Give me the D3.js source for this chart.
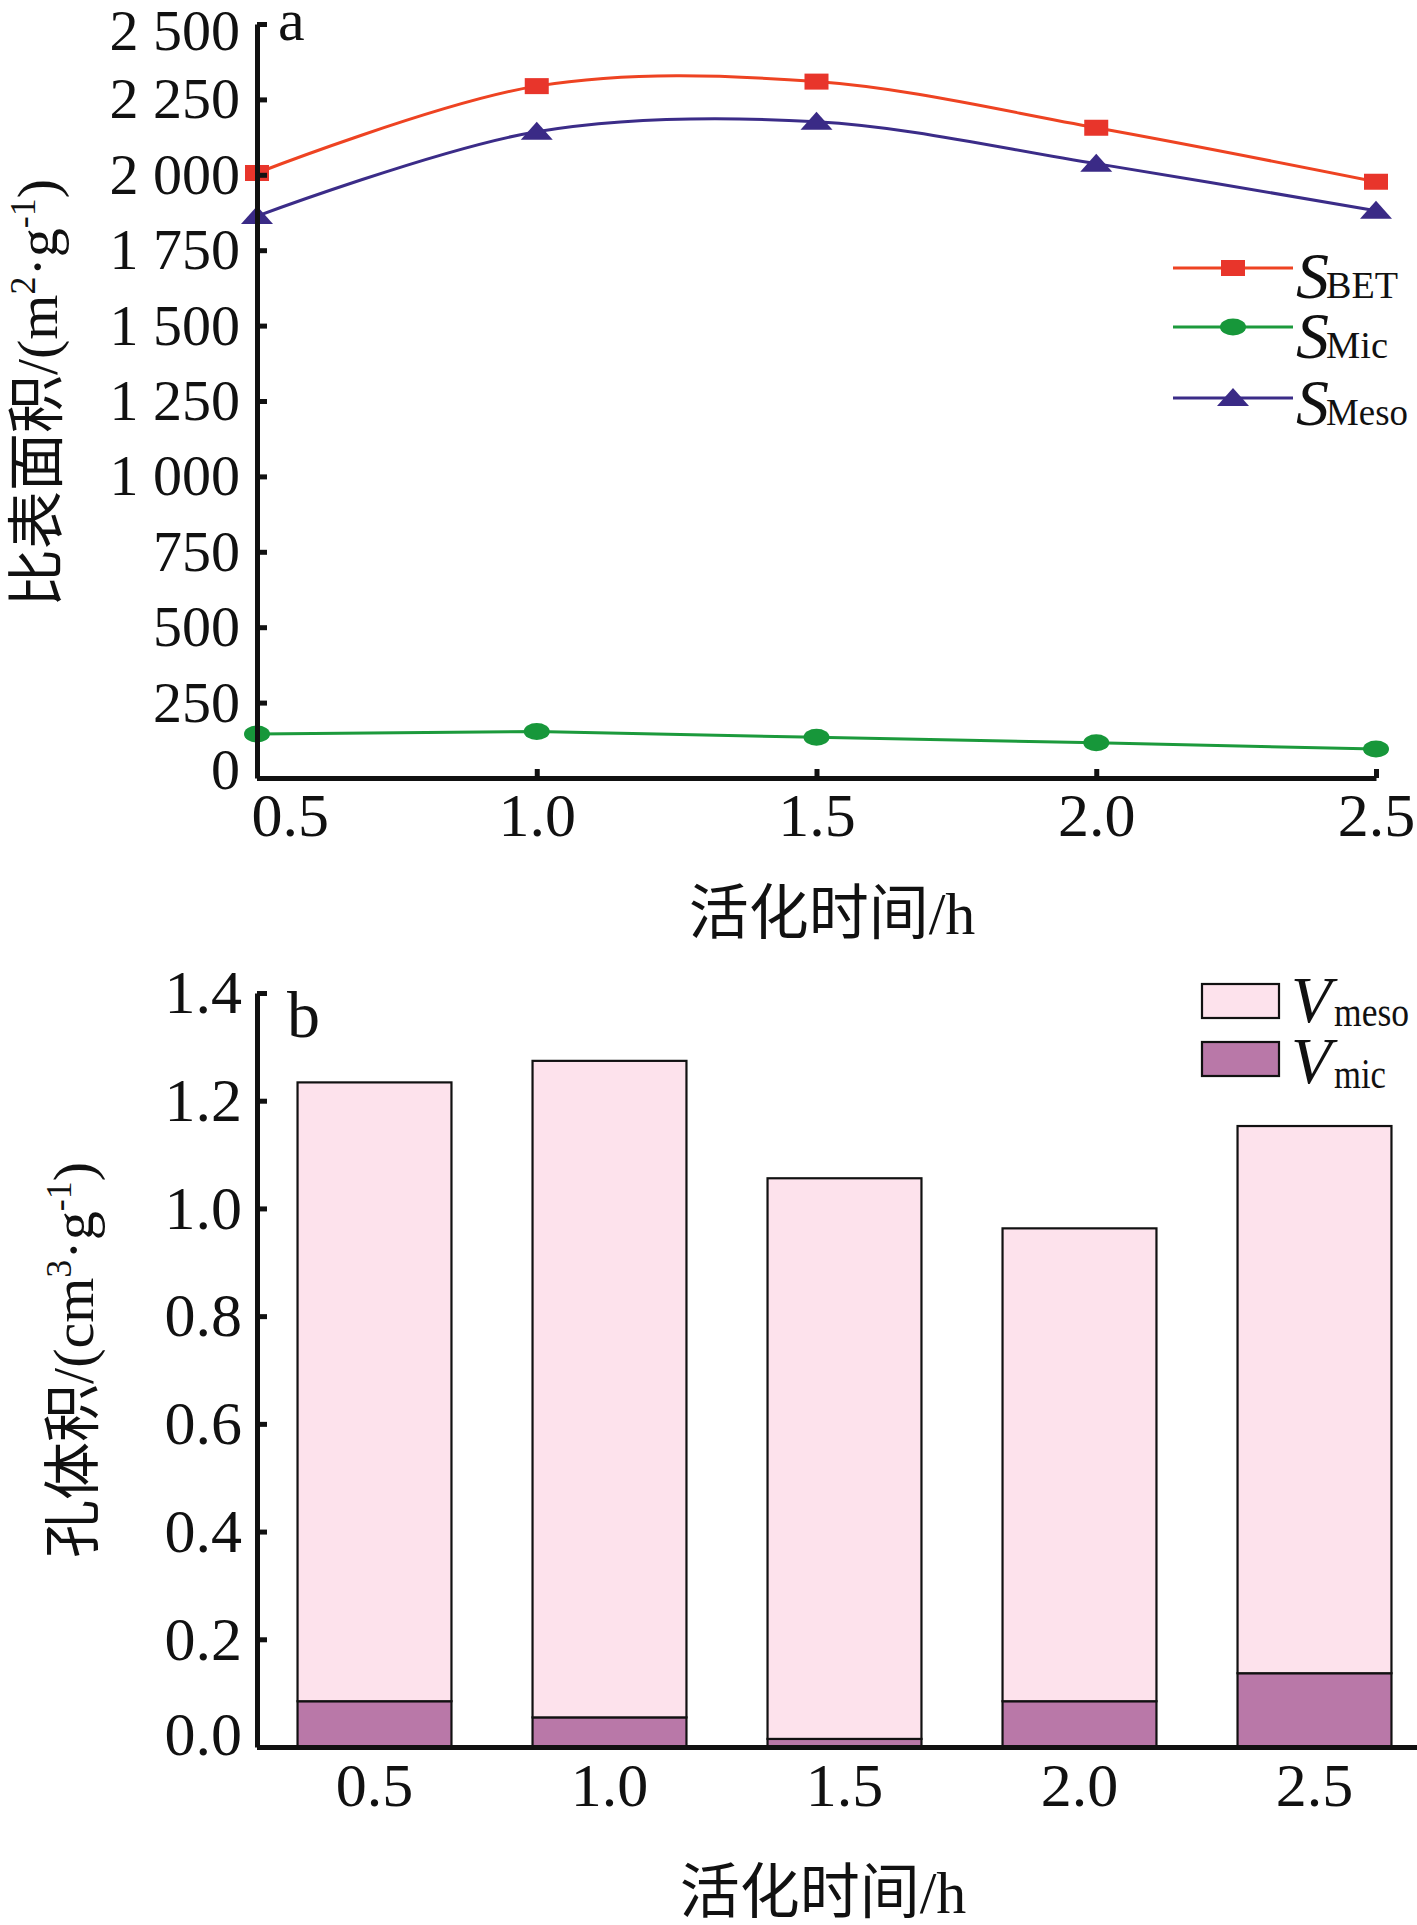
<!DOCTYPE html>
<html><head><meta charset="utf-8">
<script src="https://cdn.jsdelivr.net/npm/d3@7"></script>
<style>body{margin:0;background:#fff} svg{display:block}</style>
</head><body><svg id="c" width="1417" height="1925"></svg>
<script>
// ---------- data ----------
const times = [0.5, 1.0, 1.5, 2.0, 2.5];
const timeLabels = ["0.5", "1.0", "1.5", "2.0", "2.5"];
const sBET  = [2006, 2294, 2309, 2156, 1977];
const sMic  = [146, 154, 135, 117, 96];
const sMeso = [1863, 2143, 2176, 2037, 1881];
const vMic  = [0.085, 0.055, 0.015, 0.085, 0.137];
const vMeso = [1.149, 1.219, 1.041, 0.878, 1.016];
const yTicksA = [0, 250, 500, 750, 1000, 1250, 1500, 1750, 2000, 2250, 2500];
const yTicksB = [0, 0.2, 0.4, 0.6, 0.8, 1.0, 1.2, 1.4];
const seriesA = [
  {name: "BET",  values: sBET,  color: "#EE4322", fill: "#E8352B", marker: "square", curve: d3.curveCatmullRom},
  {name: "Mic",  values: sMic,  color: "#1C9A3C", fill: "#17973A", marker: "circle", curve: d3.curveLinear},
  {name: "Meso", values: sMeso, color: "#3B2C88", fill: "#3A2A86", marker: "triangle", curve: d3.curveCatmullRom}
];

const SERIF = "'Liberation Serif','Times New Roman',serif";
const MIX = "'Liberation Serif','Noto Sans CJK SC',serif";
const svg = d3.select("#c");

// ---------- panel a ----------
const xA = d3.scaleLinear().domain([0.5, 2.5]).range([257, 1376]);
const yA = d3.scaleLinear().domain([0, 2500]).range([778, 24]);
const gA = svg.append("g");

function drawMarker(g, type, x, y, fill) {
  if (type === "square") {
    g.append("rect").attr("x", x - 12).attr("y", y - 8).attr("width", 24).attr("height", 16).attr("fill", fill);
  } else if (type === "circle") {
    g.append("ellipse").attr("cx", x).attr("cy", y).attr("rx", 13).attr("ry", 8.5).attr("fill", fill);
  } else {
    g.append("path").attr("d", `M${x - 16},${y + 8}L${x},${y - 10}L${x + 16},${y + 8}Z`).attr("fill", fill);
  }
}

seriesA.forEach(s => {
  const line = d3.line().x((d, i) => xA(times[i])).y(d => yA(d)).curve(s.curve);
  gA.append("path").attr("d", line(s.values)).attr("fill", "none")
    .attr("stroke", s.color).attr("stroke-width", 3);
  s.values.forEach((v, i) => drawMarker(gA, s.marker, xA(times[i]), yA(v), s.fill));
});

const axA_y = gA.append("g").attr("transform", "translate(257,0)")
  .call(d3.axisLeft(yA).tickValues(yTicksA).tickSizeInner(-10).tickSizeOuter(0).tickPadding(17)
    .tickFormat(d => d >= 1000 ? `${Math.floor(d / 1000)} ${String(d % 1000).padStart(3, "0")}` : String(d)));
const axA_x = gA.append("g").attr("transform", "translate(0,778)")
  .call(d3.axisBottom(xA).tickValues(times).tickSizeInner(-9).tickSizeOuter(0).tickPadding(14)
    .tickFormat((d, i) => timeLabels[i]));
[axA_y, axA_x].forEach(ax => {
  ax.select(".domain").attr("stroke", "#111").attr("stroke-width", 5);
  ax.selectAll(".tick line").attr("stroke", "#111").attr("stroke-width", 5);
  ax.selectAll("text").attr("font-family", SERIF).attr("fill", "#111");
});
axA_y.selectAll("text").attr("font-size", 58);
axA_y.selectAll(".tick").filter(d => d === 2500).select("text").attr("y", 7);
axA_y.selectAll(".tick").filter(d => d === 0).select("text").attr("y", -8);
axA_x.selectAll("text").attr("font-size", 62);
axA_x.selectAll(".tick").filter((d, i) => i === 0).select("text").attr("text-anchor", "start").attr("x", -6);

gA.append("text").attr("x", 278).attr("y", 40).attr("font-family", SERIF).attr("font-size", 60).attr("fill", "#111").text("a");

gA.append("text").attr("x", 832).attr("y", 934).attr("text-anchor", "middle")
  .attr("font-family", MIX).attr("font-size", 60).attr("fill", "#111").text("活化时间/h");

const ylabA = gA.append("text").attr("transform", "translate(57,393) rotate(-90)").attr("text-anchor", "middle")
  .attr("font-family", MIX).attr("font-size", 58).attr("fill", "#111");
ylabA.append("tspan").text("比表面积/(m");
ylabA.append("tspan").attr("dy", -22).attr("font-size", 36).text("2");
ylabA.append("tspan").attr("dy", 22).text("·g");
ylabA.append("tspan").attr("dy", -22).attr("font-size", 36).text("-1");
ylabA.append("tspan").attr("dy", 22).text(")");

// legend a
const legA = [
  {s: seriesA[0], y: 268, tb: 298, w: 72},
  {s: seriesA[1], y: 327, tb: 358, w: 62},
  {s: seriesA[2], y: 398, tb: 425, w: 82}
];
legA.forEach(l => {
  gA.append("line").attr("x1", 1173).attr("x2", 1293).attr("y1", l.y).attr("y2", l.y)
    .attr("stroke", l.s.color).attr("stroke-width", 3);
  drawMarker(gA, l.s.marker, 1233, l.y, l.s.fill);
  gA.append("text").attr("x", 1296).attr("y", l.tb).attr("font-family", SERIF).attr("fill", "#111")
    .attr("font-size", 66).attr("font-style", "italic").text("S");
  gA.append("text").attr("x", 1326).attr("y", l.tb).attr("font-family", SERIF).attr("fill", "#111")
    .attr("font-size", 38).attr("textLength", l.w).attr("lengthAdjust", "spacingAndGlyphs").text(l.s.name);
});

// ---------- panel b ----------
const xB = d3.scaleBand().domain(timeLabels).range([257, 1432]).paddingInner(0.345).paddingOuter(0.1725);
const yB = d3.scaleLinear().domain([0, 1.4]).range([1747, 993]);
const gB = svg.append("g");

const stackData = timeLabels.map((t, i) => ({t, mic: vMic[i], meso: vMeso[i]}));
const stacked = d3.stack().keys(["mic", "meso"])(stackData);
const fills = {mic: "#B978A8", meso: "#FDE2EC"};
stacked.forEach(layer => {
  gB.append("g").selectAll("rect").data(layer).join("rect")
    .attr("x", d => xB(d.data.t)).attr("width", xB.bandwidth())
    .attr("y", d => yB(d[1])).attr("height", d => yB(d[0]) - yB(d[1]))
    .attr("fill", fills[layer.key]).attr("stroke", "#111").attr("stroke-width", 2.2);
});

const axB_y = gB.append("g").attr("transform", "translate(257,0)")
  .call(d3.axisLeft(yB).tickValues(yTicksB).tickSizeInner(-10).tickSizeOuter(0).tickPadding(15)
    .tickFormat(d3.format(".1f")));
const axB_x = gB.append("g").attr("transform", "translate(0,1747)")
  .call(d3.axisBottom(xB).tickSize(0).tickPadding(15));
[axB_y, axB_x].forEach(ax => {
  ax.select(".domain").attr("stroke", "#111").attr("stroke-width", 5);
  ax.selectAll(".tick line").attr("stroke", "#111").attr("stroke-width", 5);
  ax.selectAll("text").attr("font-family", SERIF).attr("fill", "#111").attr("font-size", 62);
});
axB_y.selectAll(".tick").filter(d => d === 0).select("text").attr("y", -12);

gB.append("text").attr("x", 287).attr("y", 1037).attr("font-family", SERIF).attr("font-size", 66).attr("fill", "#111").text("b");

gB.append("text").attr("x", 823).attr("y", 1913).attr("text-anchor", "middle")
  .attr("font-family", MIX).attr("font-size", 60).attr("fill", "#111").text("活化时间/h");

const ylabB = gB.append("text").attr("transform", "translate(93,1360) rotate(-90)").attr("text-anchor", "middle")
  .attr("font-family", MIX).attr("font-size", 58).attr("fill", "#111");
ylabB.append("tspan").text("孔体积/(cm");
ylabB.append("tspan").attr("dy", -22).attr("font-size", 36).text("3");
ylabB.append("tspan").attr("dy", 22).text("·g");
ylabB.append("tspan").attr("dy", -22).attr("font-size", 36).text("-1");
ylabB.append("tspan").attr("dy", 22).text(")");

// legend b
const legB = [{k: "meso", y: 984, vb: 1022, sb: 1026, w: 75}, {k: "mic", y: 1042, vb: 1083, sb: 1088, w: 52}];
legB.forEach(l => {
  gB.append("rect").attr("x", 1202).attr("y", l.y).attr("width", 77).attr("height", 34)
    .attr("fill", fills[l.k]).attr("stroke", "#111").attr("stroke-width", 2.2);
  gB.append("text").attr("x", 1291).attr("y", l.vb).attr("font-family", SERIF).attr("font-size", 66)
    .attr("font-style", "italic").attr("fill", "#111").text("V");
  gB.append("text").attr("x", 1334).attr("y", l.sb).attr("font-family", SERIF).attr("font-size", 42)
    .attr("textLength", l.w).attr("lengthAdjust", "spacingAndGlyphs").attr("fill", "#111").text(l.k);
});
</script>
</body></html>
